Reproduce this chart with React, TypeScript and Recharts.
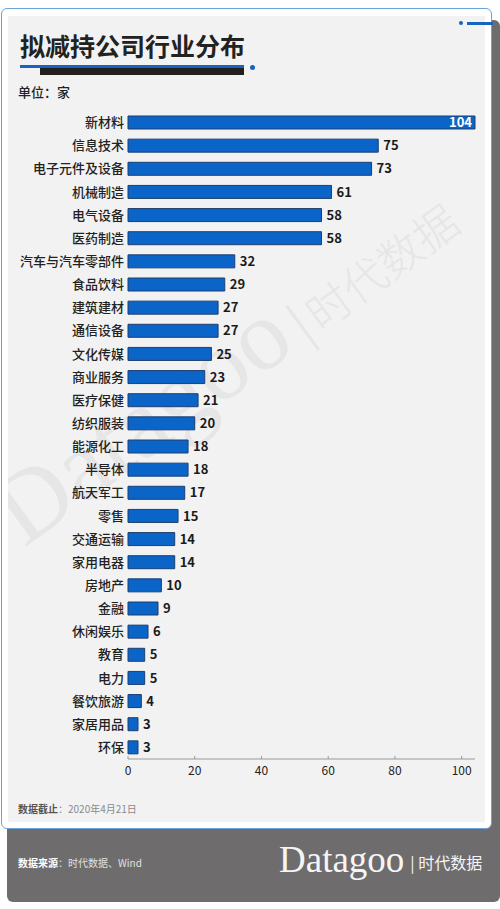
import { BarChart, Bar, XAxis, YAxis, LabelList } from 'recharts';

const industries = [
  '新材料', '信息技术', '电子元件及设备', '机械制造', '电气设备', '医药制造', '汽车与汽车零部件',
  '食品饮料', '建筑建材', '通信设备', '文化传媒', '商业服务', '医疗保健', '纺织服装',
  '能源化工', '半导体', '航天军工', '零售', '交通运输', '家用电器', '房地产',
  '金融', '休闲娱乐', '教育', '电力', '餐饮旅游', '家居用品', '环保',
];
const companies = [104, 75, 73, 61, 58, 58, 32, 29, 27, 27, 25, 23, 21, 20, 18, 18, 17, 15, 14, 14, 10, 9, 6, 5, 5, 4, 3, 3];
const xTicks = [0, 20, 40, 60, 80, 100];

const FONT = '"Noto Sans CJK SC", "Noto Sans", sans-serif';

const rows = industries.map((name, i) => ({ name, value: companies[i] }));

function ValueLabel(props: any) {
  const { x, y, width, height, value } = props;
  const inside = value >= 100;
  return (
    <text
      x={inside ? x + width - 3 : x + width + 5}
      y={y + height / 2}
      dy="0.36em"
      textAnchor={inside ? 'end' : 'start'}
      fontSize={13}
      fontWeight={700}
      fill={inside ? '#fff' : '#1a1a1a'}
      fontFamily={FONT}
    >
      {value}
    </text>
  );
}

function XTick(props: any) {
  const { x, y, payload } = props;
  return (
    <g>
      <line x1={x} x2={x} y1={y - 3} y2={y} stroke="#999" />
      <text x={x} y={y + 16} textAnchor="middle" fontSize={12} fill="#222" fontFamily={FONT}>
        {payload.value}
      </text>
    </g>
  );
}

export default function App() {
  return (
    <div style={{ position: 'absolute', left: 0, top: 0, width: 500, height: 909, background: '#fff', fontFamily: FONT, overflow: 'hidden' }}>
      {/* footer + shadow */}
      <div style={{ position: 'absolute', left: 7, top: 20, width: 493, height: 882, background: '#6e6c6c', borderRadius: '0 6px 6px 6px' }} />
      {/* card */}
      <div style={{ position: 'absolute', left: 1, top: 8, width: 489, height: 819, background: '#fff', border: '1.5px solid #6aa3d8', borderRadius: 6 }} />
      <div style={{ position: 'absolute', left: 8, top: 16, width: 477, height: 806, background: '#f2f2f2' }} />

      {/* watermark */}
      <svg width={477} height={806} style={{ position: 'absolute', left: 8, top: 16 }}>
        <g transform="rotate(-36 16 532)">
          <text x={16} y={532} fill="#e6e6e6" fontSize={100} fontFamily="Liberation Serif, serif">
            Datagoo
            <tspan fontSize={60} dx={10}>|</tspan>
            <tspan fontSize={44} fontFamily={FONT} fontWeight={300} dx={6}>时代数据</tspan>
          </text>
        </g>
      </svg>

      {/* decorations */}
      <div style={{ position: 'absolute', left: 459, top: 21, width: 4, height: 4, borderRadius: 2, background: '#1565c0' }} />
      <div style={{ position: 'absolute', left: 467, top: 22, width: 26, height: 2.5, background: '#1565c0' }} />

      <div style={{ position: 'absolute', left: 20, top: 27, fontSize: 25, fontWeight: 700, color: '#222' }}>拟减持公司行业分布</div>
      <div style={{ position: 'absolute', left: 20, top: 65, width: 224, height: 3, background: '#1565c0' }} />
      <div style={{ position: 'absolute', left: 40, top: 68, width: 204, height: 7, background: '#231f1f' }} />
      <div style={{ position: 'absolute', left: 250, top: 65, width: 5, height: 5, borderRadius: 3, background: '#1565c0' }} />

      <div style={{ position: 'absolute', left: 18, top: 82, fontSize: 13, fontWeight: 500, color: '#222' }}>单位：家</div>

      <div style={{ position: 'absolute', left: 0, top: 0 }}>
        <BarChart width={500} height={800} data={rows} layout="vertical" margin={{ top: 111, right: 25, bottom: 11, left: 0 }} barCategoryGap={5}>
          <XAxis
            type="number"
            domain={[0, 104]}
            ticks={xTicks}
            axisLine={{ stroke: '#999' }}
            tickLine={false}
            tickSize={0}
            tickMargin={0}
            height={30}
            tick={<XTick />}
          />
          <YAxis
            type="category"
            dataKey="name"
            width={128}
            axisLine={false}
            tickLine={false}
            tickSize={4}
            tickMargin={0}
            interval={0}
            tick={{ fontSize: 13, fill: '#222', fontFamily: FONT, fontWeight: 500 }}
          />
          <Bar dataKey="value" fill="#0b64c8" stroke="#1d3f6e" strokeWidth={1} barSize={13} isAnimationActive={false}>
            <LabelList dataKey="value" content={<ValueLabel />} />
          </Bar>
        </BarChart>
      </div>

      <div style={{ position: 'absolute', left: 18, top: 801, fontSize: 10, color: '#8a8a8a' }}>
        <span style={{ fontWeight: 700, color: '#555' }}>数据截止</span>：2020年4月21日
      </div>

      <div style={{ position: 'absolute', left: 18, top: 855, fontSize: 10, color: '#e0e0e0' }}>
        <span style={{ fontWeight: 700, color: '#fff' }}>数据来源</span>：时代数据、Wind
      </div>
      <div style={{ position: 'absolute', left: 279, top: 838, color: '#f5f5f5', whiteSpace: 'nowrap' }}>
        <span style={{ fontFamily: 'Liberation Serif, serif', fontSize: 37 }}>Datagoo</span>
        <span style={{ fontSize: 16, marginLeft: 6, position: 'relative', top: -3 }}>| 时代数据</span>
      </div>
    </div>
  );
}
